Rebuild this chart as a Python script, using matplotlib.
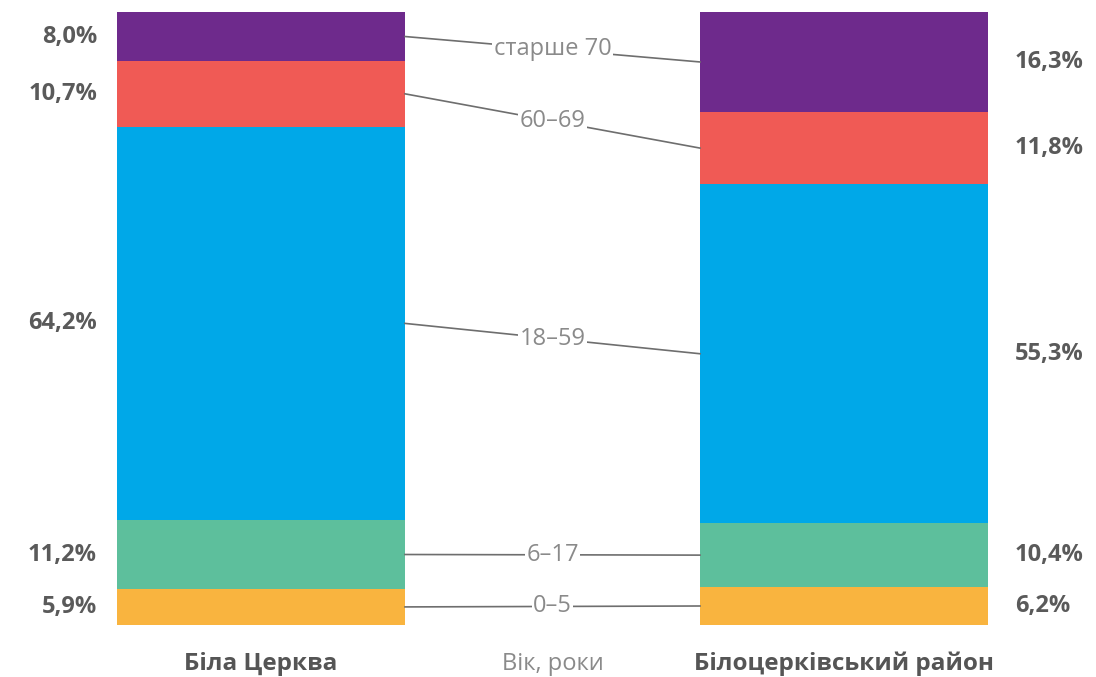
import matplotlib.pyplot as plt

# age groups, bottom to top
groups = ['0–5', '6–17', '18–59', '60–69', 'старше 70']
city = [5.9, 11.2, 64.2, 10.7, 8.0]
district = [6.2, 10.4, 55.3, 11.8, 16.3]
bar_names = ['Біла Церква', 'Білоцерківський район']
colors = ['#F9B43F', '#5DBF9C', '#00A8E8', '#F05A55', '#6E2A8C']

plt.rcParams['font.family'] = ['Open Sans', 'DejaVu Sans']

fig = plt.figure(figsize=(10.96, 6.77), dpi=100)
ax = fig.add_axes([117 / 1096, 1 - 625 / 677, (988 - 117) / 1096, 613 / 677])
w = 288 / 583

def fmt(v):
    return f'{v:.1f}%'.replace('.', ',')

bottom_c = 0
bottom_d = 0
for g, vc, vd, col in zip(groups, city, district, colors):
    ax.bar(0, vc, width=w, bottom=bottom_c, color=col, linewidth=0)
    ax.bar(1, vd, width=w, bottom=bottom_d, color=col, linewidth=0)
    yc = bottom_c + vc / 2
    yd = bottom_d + vd / 2
    # connector line between the two bars, label in the middle
    ax.plot([w / 2, 1 - w / 2], [yc, yd], color='#6e6e6e', lw=1.2, clip_on=False)
    ax.text(0.5, (yc + yd) / 2, g, ha='center', va='center', fontsize=17,
            color='#8a8a8a', bbox=dict(facecolor='white', edgecolor='none', pad=1.0))
    ax.annotate(fmt(vc), (-w / 2, yc), xytext=(-20, 0), textcoords='offset pixels',
                ha='right', va='center', fontsize=17, fontweight='bold', color='#5a5a5a')
    ax.annotate(fmt(vd), (1 + w / 2, yd), xytext=(27, 0), textcoords='offset pixels',
                ha='left', va='center', fontsize=17, fontweight='bold', color='#5a5a5a')
    bottom_c += vc
    bottom_d += vd

ax.set_xlim(-w / 2, 1 + w / 2)
ax.set_ylim(0, 100)
ax.axis('off')

for x, name in zip([0, 1], bar_names):
    ax.annotate(name, (x, 0), xytext=(0, -39), textcoords='offset pixels',
                ha='center', va='center', fontsize=17.5, fontweight='bold', color='#555555')
ax.annotate('Вік, роки', (0.5, 0), xytext=(0, -39), textcoords='offset pixels',
            ha='center', va='center', fontsize=17, color='#8a8a8a')

fig.savefig('out.png', dpi=100, facecolor='white')
